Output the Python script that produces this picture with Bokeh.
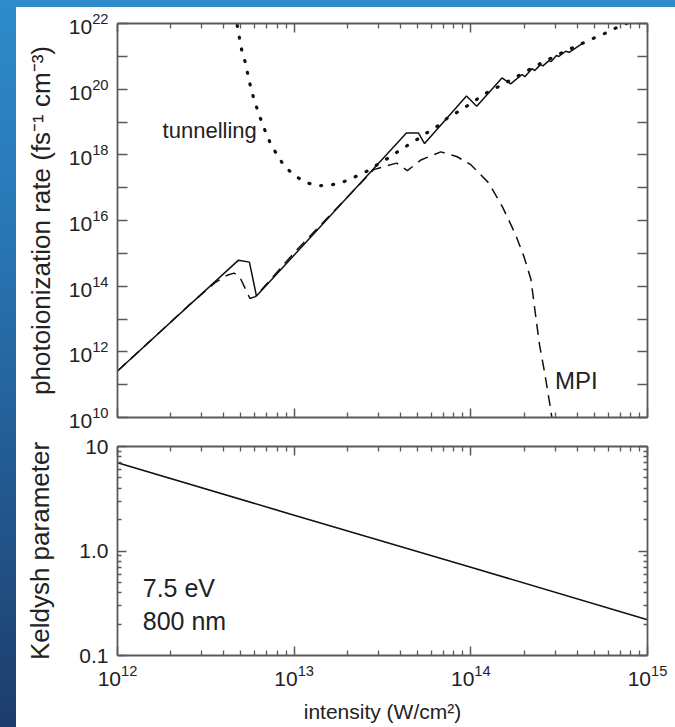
from bokeh.plotting import figure
from bokeh.models import LogAxis, FixedTicker, Label
from bokeh.layouts import column
from bokeh.embed import file_html
from bokeh.resources import INLINE

FONT = "Liberation Sans"
AXC = "#5a5a5a"
INK = "#111111"

# ---------------- data ----------------
solid_I = [1.0e12, 4.84e12, 5.58e12, 6.12e12, 4.32e13, 5.06e13, 5.47e13, 9.45e13,
           1.08e14, 1.50e14, 1.68e14, 1.95e14, 2.02e14, 2.22e14, 2.30e14, 2.48e14,
           2.56e14, 2.77e14, 2.85e14, 3.05e14, 3.15e14, 3.44e14, 3.60e14, 4.29e14]
solid_R = [2.6e11, 6.2e14, 5.4e14, 5.0e13, 4.6e18, 4.6e18, 2.2e18, 6.2e19,
           3.0e19, 2.2e20, 1.45e20, 2.8e20, 2.4e20, 4.2e20, 3.7e20, 5.6e20,
           5.1e20, 7.4e20, 6.9e20, 1.06e21, 9.9e20, 1.43e21, 1.33e21, 2.5e21]

mpi_I = [1.0e12, 2.51e12, 3.55e12, 4.17e12, 4.57e12, 4.90e12, 5.62e12, 6.03e12,
         1.0e13, 2.82e13, 3.80e13, 4.37e13, 5.25e13, 6.76e13, 8.32e13, 1.0e14,
         1.26e14, 1.51e14, 1.78e14, 2.0e14, 2.19e14, 2.34e14, 2.45e14, 2.63e14,
         2.82e14, 2.95e14]
mpi_R = [2.6e11, 2.5e13, 1.26e14, 2.14e14, 2.5e14, 2.0e14, 4.2e13, 4.8e13,
         1.05e15, 3.55e17, 5.6e17, 3.3e17, 7.1e17, 1.23e18, 8.9e17, 5.0e17,
         1.41e17, 2.6e16, 4.0e15, 7.9e14, 1.6e14, 1.0e13, 1.6e12, 2.0e11,
         2.0e10, 4.0e9]

tun_I = [4.62e12, 4.74e12, 5.01e12, 5.24e12, 5.42e12, 5.61e12, 5.83e12, 6.12e12,
         6.44e12, 6.82e12, 7.28e12, 7.94e12, 8.81e12, 1.02e13, 1.19e13, 1.38e13,
         1.61e13, 1.87e13, 2.19e13, 2.56e13, 2.95e13, 3.47e13, 4.04e13, 4.75e13,
         5.53e13, 6.50e13, 7.41e13, 8.71e13, 1.01e14, 1.20e14, 1.58e14, 2.51e14,
         3.55e14, 4.99e14, 5.81e14, 6.76e14, 8.90e14]
tun_R = [2.0e22, 1.0e22, 1.82e21, 7.9e20, 3.5e20, 1.48e20, 6.6e19, 2.9e19,
         1.29e19, 5.75e18, 2.45e18, 1.07e18, 4.47e17, 2.19e17, 1.38e17, 1.15e17,
         1.20e17, 1.45e17, 2.09e17, 3.09e17, 5.0e17, 8.5e17, 1.48e18, 2.51e18,
         4.37e18, 7.6e18, 1.35e19, 2.24e19, 3.8e19, 7.2e19, 1.58e20, 6.3e20,
         1.58e21, 3.63e21, 5.13e21, 7.7e21, 1.41e22]

keld_I = [1.0e12, 1.0e13, 1.0e14, 1.0e15]
keld_g = [7.0, 2.2, 0.70, 0.22]

x_major = [1e12, 1e13, 1e14, 1e15]
x_minor = [m * 10.0 ** e for e in range(12, 15) for m in range(2, 10)]
top_y_major = [10.0 ** e for e in range(10, 23, 2)]
top_y_minor = [10.0 ** e for e in range(11, 22, 2)]
bot_y_major = [0.1, 1.0, 10.0]
bot_y_minor = [m * 10.0 ** e for e in (-1, 0) for m in range(2, 10)]
bot_y_labels = {0.1: "0.1", 1.0: "1.0", 10.0: "10"}

TICK_FS = "21px"


def style_axis(ax, ticker, show_labels, maj=9, mnr=4):
    ax.ticker = ticker
    ax.axis_line_color = AXC
    ax.axis_line_width = 1.8
    ax.major_tick_line_color = AXC
    ax.minor_tick_line_color = AXC
    ax.major_tick_line_width = 1.5
    ax.minor_tick_line_width = 1.3
    ax.major_tick_in = maj
    ax.major_tick_out = 0
    ax.minor_tick_in = mnr
    ax.minor_tick_out = 0
    ax.major_label_text_font = FONT
    ax.major_label_text_color = "#222222"
    ax.axis_label_text_font = FONT
    ax.axis_label_text_font_style = "normal"
    ax.axis_label_text_color = "#222222"
    if show_labels:
        ax.major_label_text_font_size = TICK_FS
        ax.major_label_standoff = 9
    else:
        ax.major_label_text_font_size = "1px"
        ax.major_label_text_alpha = 0.0
        ax.major_label_standoff = 0


# ---------------- top panel ----------------
top = figure(x_axis_type="log", y_axis_type="log", x_range=(1e12, 1e15), y_range=(1e10, 1e22),
             frame_width=530, frame_height=394, min_border_left=101, min_border_right=28,
             min_border_top=16, min_border_bottom=16, toolbar_location=None,
             output_backend="svg", outline_line_color=None,
             background_fill_color="white", border_fill_color="white")
top.grid.visible = False
top.margin = (7, 0, 0, 16)

top.line(solid_I, solid_R, line_color=INK, line_width=1.5)
top.line(mpi_I, mpi_R, line_color=INK, line_width=1.5, line_dash="11 7")
top.line(tun_I, tun_R, line_color=INK, line_width=3.2, line_dash="1 11", line_cap="round")

style_axis(top.xaxis[0], FixedTicker(ticks=x_major, minor_ticks=x_minor), False, 9, 5)
style_axis(top.yaxis[0], FixedTicker(ticks=top_y_major, minor_ticks=top_y_minor), True, 10, 10)
top.yaxis[0].axis_label = "photoionization rate (fs\u207b\u00b9 cm\u207b\u00b3)"
top.yaxis[0].axis_label_text_font_size = "26px"
top.yaxis[0].axis_label_standoff = 10

ax_t = LogAxis()
style_axis(ax_t, FixedTicker(ticks=x_major, minor_ticks=x_minor), False, 9, 5)
top.add_layout(ax_t, "above")
ax_r = LogAxis()
style_axis(ax_r, FixedTicker(ticks=top_y_major, minor_ticks=top_y_minor), False, 10, 10)
top.add_layout(ax_r, "right")

top.add_layout(Label(x=1.8e12, y=10 ** 18.75, text="tunnelling", text_font=FONT,
                     text_font_size="22px", text_color="#222222", text_baseline="alphabetic"))
top.add_layout(Label(x=3.0e14, y=10 ** 11.12, text="MPI", text_font=FONT,
                     text_font_size="24px", text_color="#222222", text_baseline="alphabetic"))

# ---------------- bottom panel ----------------
bot = figure(x_axis_type="log", y_axis_type="log", x_range=(1e12, 1e15), y_range=(0.1, 10),
             frame_width=530, frame_height=209, min_border_left=101, min_border_right=28,
             min_border_top=13, min_border_bottom=72, toolbar_location=None,
             output_backend="svg", outline_line_color=None,
             background_fill_color="white", border_fill_color="white")
bot.grid.visible = False
bot.margin = (0, 0, 0, 16)

bot.line(keld_I, keld_g, line_color=INK, line_width=1.6)

style_axis(bot.xaxis[0], FixedTicker(ticks=x_major, minor_ticks=x_minor), True, 9, 5)
bot.xaxis[0].axis_label = "intensity (W/cm\u00b2)"
bot.xaxis[0].axis_label_text_font_size = "21px"
bot.xaxis[0].axis_label_standoff = 11
style_axis(bot.yaxis[0], FixedTicker(ticks=bot_y_major, minor_ticks=bot_y_minor), True, 9, 4)
bot.yaxis[0].major_label_overrides = bot_y_labels
bot.yaxis[0].axis_label = "Keldysh parameter"
bot.yaxis[0].axis_label_text_font_size = "26px"
bot.yaxis[0].axis_label_standoff = 21

ax_t2 = LogAxis()
style_axis(ax_t2, FixedTicker(ticks=x_major, minor_ticks=x_minor), False, 9, 5)
bot.add_layout(ax_t2, "above")
ax_r2 = LogAxis()
style_axis(ax_r2, FixedTicker(ticks=bot_y_major, minor_ticks=bot_y_minor), False, 9, 4)
bot.add_layout(ax_r2, "right")

bot.add_layout(Label(x=1.39e12, y=0.438, text="7.5 eV", text_font=FONT,
                     text_font_size="25px", text_color="#222222", text_baseline="alphabetic"))
bot.add_layout(Label(x=1.39e12, y=0.213, text="800 nm", text_font=FONT,
                     text_font_size="25px", text_color="#222222", text_baseline="alphabetic"))

BG = ("linear-gradient(#ffffff, #ffffff) 16px 7px / calc(100% - 16px) calc(100% - 7px) no-repeat, "
      "linear-gradient(180deg, #2e8bca 0%, #2874b2 35%, #1d3d6c 100%)")
page = column(top, bot, spacing=0, styles={"background": BG})

open("out.html", "w").write(file_html(page, INLINE))
